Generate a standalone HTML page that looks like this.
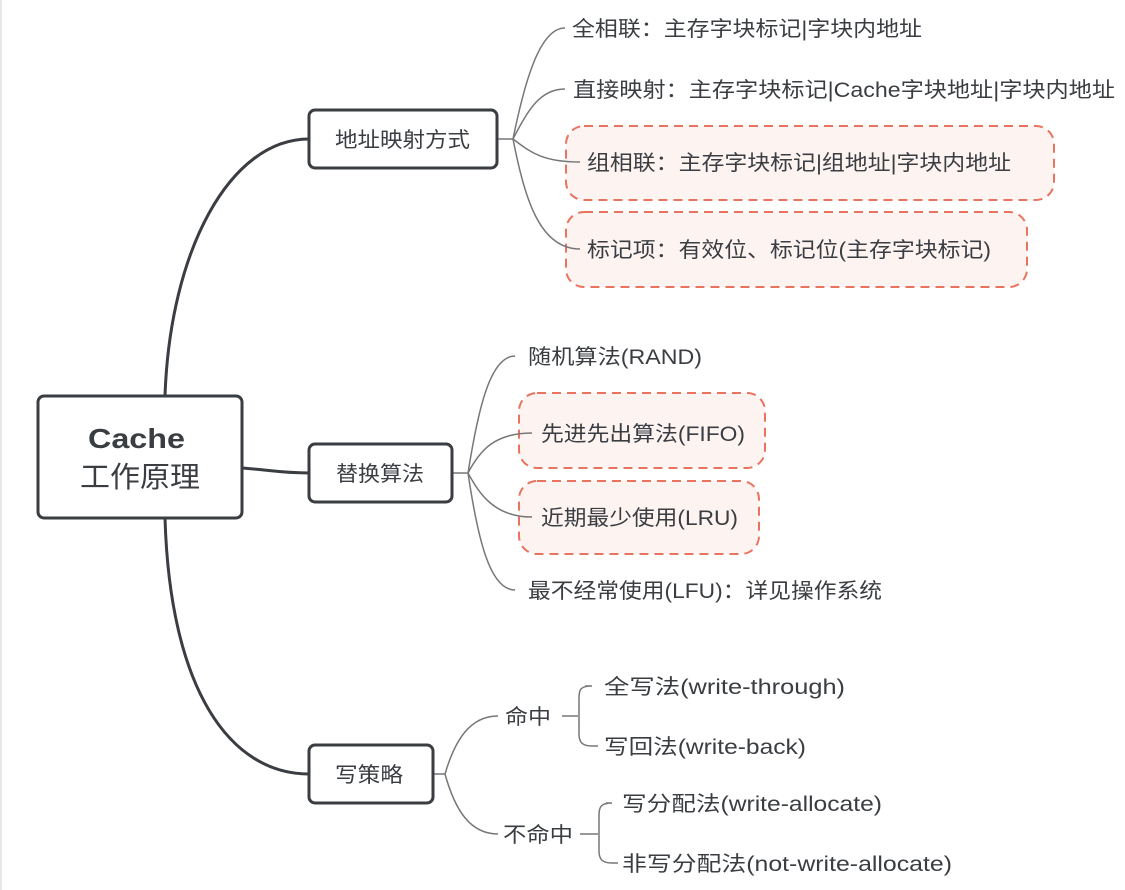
<!DOCTYPE html>
<html><head><meta charset="utf-8"><style>
html,body{margin:0;padding:0;background:#fff;}
svg{display:block;}
text{font-family:"Liberation Sans","Noto Sans CJK SC",sans-serif;fill:#3a3d42;}
</style></head><body>
<svg width="1125" height="890" viewBox="0 0 1125 890" xmlns="http://www.w3.org/2000/svg">
<rect width="1125" height="890" fill="#fff"/>
<line x1="1" y1="0" x2="1" y2="890" stroke="#e8e8e8" stroke-width="2"/>
<g fill="none" stroke="#3a3d42" stroke-width="3">
<path d="M165 396 C170 250 230 139 309 139"/>
<path d="M242 468 C270 470 280 473 309 473"/>
<path d="M165 518 C170 690 230 774 309 774"/>
</g>
<g fill="#fdf4f2" stroke="#e8735f" stroke-width="2" stroke-dasharray="9,6">
<rect x="566" y="126" width="488" height="74" rx="18"/>
<rect x="566" y="212" width="461" height="75" rx="18"/>
<rect x="519" y="393" width="246" height="75" rx="18"/>
<rect x="519" y="481" width="240" height="73" rx="18"/>
</g>
<g fill="none" stroke="#777" stroke-width="1.5">
<path d="M497 139 H513 C525 80 540 28 565 28"/>
<path d="M513 139 C528 110 540 89 565 89"/>
<path d="M513 139 C528 150 540 162 580 162"/>
<path d="M513 139 C525 200 540 249 580 249"/>
<path d="M452 473 H468 C478 410 490 356 515 356"/>
<path d="M468 473 C480 450 495 433 532 433"/>
<path d="M468 473 C480 495 495 517 532 517"/>
<path d="M468 473 C478 540 490 590 515 590"/>
<path d="M433 774 H445 C455 740 470 716 498 716"/>
<path d="M445 774 C455 810 470 834 498 834"/>
<path d="M562 716 H578"/>
<path d="M585 686 H592 M592 686 C580 686 579 690 579 698 V734 C579 742 582 746 592 746 H598"/>
<path d="M580 834 H598"/>
<path d="M606 803 H612 M612 803 C601 803 599 807 599 815 V851 C599 859 602 863 612 863 H618"/>
</g>
<g fill="#fff" stroke="#3a3d42" stroke-width="3">
<rect x="38" y="396" width="204" height="122" rx="6"/>
<rect x="309" y="110" width="188" height="58" rx="6"/>
<rect x="309" y="444" width="143" height="58" rx="6"/>
<rect x="309" y="745" width="124" height="58" rx="6"/>
</g>
<g lengthAdjust="spacingAndGlyphs">
<text x="88" y="448" font-size="28" font-weight="bold" textLength="97" lengthAdjust="spacingAndGlyphs">Cache</text>
<text x="80" y="487" font-size="29" textLength="120" lengthAdjust="spacingAndGlyphs">工作原理</text>
<text x="335" y="147" font-size="21" textLength="135" lengthAdjust="spacingAndGlyphs">地址映射方式</text>
<text x="336" y="481" font-size="21" textLength="88" lengthAdjust="spacingAndGlyphs">替换算法</text>
<text x="335" y="782" font-size="21" textLength="68" lengthAdjust="spacingAndGlyphs">写策略</text>
</g>
<g font-size="21">
<text x="572" y="36" textLength="350" lengthAdjust="spacingAndGlyphs">全相联：主存字块标记|字块内地址</text>
<text x="573" y="97" textLength="542" lengthAdjust="spacingAndGlyphs">直接映射：主存字块标记|Cache字块地址|字块内地址</text>
<text x="587" y="170" textLength="424" lengthAdjust="spacingAndGlyphs">组相联：主存字块标记|组地址|字块内地址</text>
<text x="587" y="257" textLength="404" lengthAdjust="spacingAndGlyphs">标记项：有效位、标记位(主存字块标记)</text>
<text x="528" y="364" textLength="174" lengthAdjust="spacingAndGlyphs">随机算法(RAND)</text>
<text x="541" y="441" textLength="204" lengthAdjust="spacingAndGlyphs">先进先出算法(FIFO)</text>
<text x="541" y="525" textLength="197" lengthAdjust="spacingAndGlyphs">近期最少使用(LRU)</text>
<text x="528" y="598" textLength="354" lengthAdjust="spacingAndGlyphs">最不经常使用(LFU)：详见操作系统</text>
<text x="505" y="724" textLength="46" lengthAdjust="spacingAndGlyphs">命中</text>
<text x="503" y="842" textLength="70" lengthAdjust="spacingAndGlyphs">不命中</text>
<text x="604" y="694" textLength="241" lengthAdjust="spacingAndGlyphs">全写法(write-through)</text>
<text x="604" y="754" textLength="202" lengthAdjust="spacingAndGlyphs">写回法(write-back)</text>
<text x="622" y="811" textLength="260" lengthAdjust="spacingAndGlyphs">写分配法(write-allocate)</text>
<text x="622" y="871" textLength="330" lengthAdjust="spacingAndGlyphs">非写分配法(not-write-allocate)</text>
</g>
</svg>
</body></html>
